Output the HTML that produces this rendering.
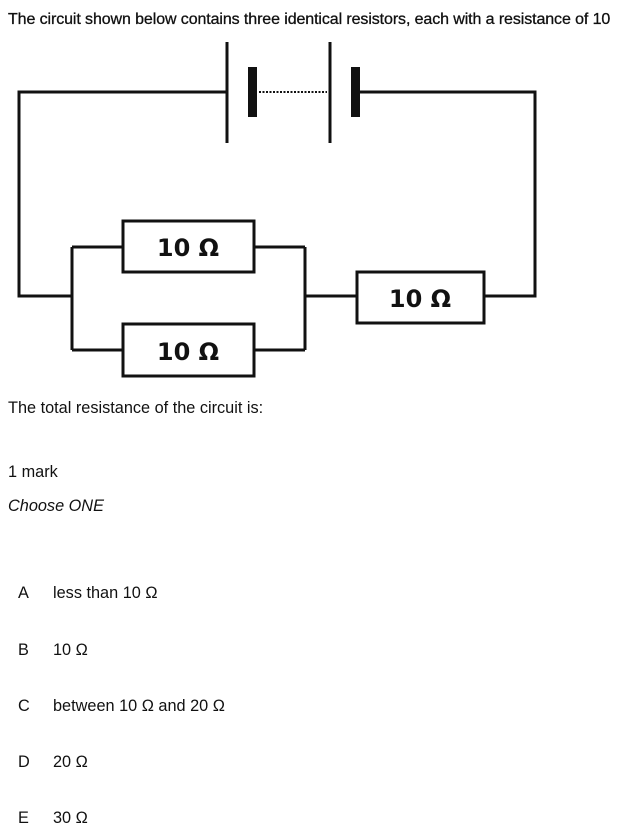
<!DOCTYPE html>
<html><head><style>
body{margin:0;width:633px;height:834px;background:#fff;position:relative;overflow:hidden;font-family:"Liberation Sans",Arial,sans-serif;color:#111}
.t{position:absolute;font-size:16.3px;white-space:nowrap}
</style></head><body>
<div class="t" style="left:8px;top:11px;font-size:16px;letter-spacing:-0.1px;-webkit-text-stroke:0.3px #111">The circuit shown below contains three identical resistors, each with a resistance of 10</div>
<svg width="633" height="400" style="position:absolute;left:0;top:0" xmlns="http://www.w3.org/2000/svg">
<g stroke="#111" stroke-width="3" fill="none">
<polyline points="227,92 19,92 19,296 72,296"/>
<polyline points="359,92 535,92 535,296 484,296"/>
<line x1="227" y1="42" x2="227" y2="143"/>
<line x1="330" y1="42" x2="330" y2="143"/>
<line x1="72" y1="247" x2="72" y2="350"/>
<line x1="305" y1="247" x2="305" y2="350"/>
<line x1="72" y1="247" x2="123" y2="247"/>
<line x1="254" y1="247" x2="305" y2="247"/>
<line x1="72" y1="350" x2="123" y2="350"/>
<line x1="254" y1="350" x2="305" y2="350"/>
<line x1="305" y1="296" x2="357" y2="296"/>
<rect x="123" y="221" width="131" height="51"/>
<rect x="123" y="324" width="131" height="52"/>
<rect x="357" y="272" width="127" height="51"/>
<line x1="259" y1="92" x2="327" y2="92" stroke-width="2" stroke-dasharray="2,1.5"/>
</g>
<rect x="248" y="67" width="9" height="50" fill="#111"/>
<rect x="351" y="67" width="9" height="50" fill="#111"/>
<g font-family="DejaVu Sans, sans-serif" font-size="24" font-weight="bold" fill="#111" text-anchor="middle">
<text x="188" y="256">10 Ω</text>
<text x="188" y="360">10 Ω</text>
<text x="420" y="307">10 Ω</text>
</g>
</svg>
<div class="t" style="left:8px;top:399px">The total resistance of the circuit is:</div>
<div class="t" style="left:8px;top:463px">1 mark</div>
<div class="t" style="left:8px;top:497px;font-style:italic">Choose ONE</div>
<div class="t" style="left:18px;top:584px">A</div><div class="t" style="left:53px;top:584px">less than 10 Ω</div>
<div class="t" style="left:18px;top:641px">B</div><div class="t" style="left:53px;top:641px">10 Ω</div>
<div class="t" style="left:18px;top:697px">C</div><div class="t" style="left:53px;top:697px">between 10 Ω and 20 Ω</div>
<div class="t" style="left:18px;top:753px">D</div><div class="t" style="left:53px;top:753px">20 Ω</div>
<div class="t" style="left:18px;top:809px">E</div><div class="t" style="left:53px;top:809px">30 Ω</div>
</body></html>
